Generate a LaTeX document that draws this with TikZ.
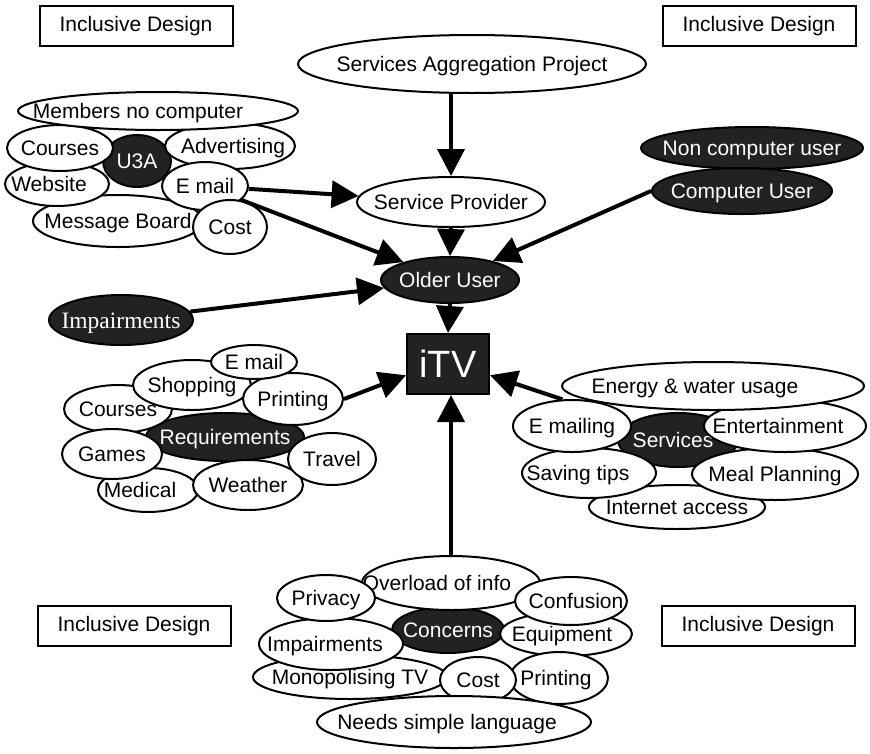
\documentclass[tikz,border=0pt]{standalone}
\usepackage{fontspec}
\setmainfont{Liberation Sans}
\newfontfamily\serifimp{Liberation Serif}
\usetikzlibrary{shapes.geometric,arrows.meta}
\definecolor{darkfill}{HTML}{222222}
\newcommand{\tx}[2][0pt]{\makebox[0pt]{\hspace*{#1}\hspace*{#1}\raisebox{-0.36em}[0pt][0pt]{#2}}}
\tikzset{
  wo/.style={ellipse, draw=black, line width=2pt, fill=white, inner sep=0pt, text=black, font=\fontsize{21}{25}\selectfont},
  bo/.style={ellipse, draw=black, line width=2pt, fill=darkfill, inner sep=0pt, text=white, font=\fontsize{21}{25}\selectfont},
  idbox/.style={rectangle, draw=black, line width=2pt, fill=white, minimum width=193pt, minimum height=40pt, inner sep=0pt, font=\fontsize{21}{25}\selectfont},
  arr/.style={line width=4pt, -{Triangle[length=27pt,width=27pt]}},
  sz/.style 2 args={minimum width=#1pt, minimum height=#2pt},
}
\begin{document}
\begin{tikzpicture}[x=1pt,y=-1pt]
\useasboundingbox[fill=white] (0,0) rectangle (870,753);

% Inclusive Design boxes
\node[idbox] (id1) at (136,26) {Inclusive Design};
\node[idbox] (id2) at (759,26) {Inclusive Design};
\node[idbox] (id3) at (134,626) {Inclusive Design};
\node[idbox] (id4) at (758,626) {Inclusive Design};

% top
\node[wo,sz={348}{58}] (sap) at (472,64) {\tx{Services Aggregation Project}};
\node[wo,sz={188}{50}] (sp) at (451,202) {\tx{Service Provider}};
\node[bo,sz={138}{46}] (ou) at (450,280) {\tx{Older User}};
\node[rectangle, draw=black, line width=2pt, fill=darkfill, text=white, minimum width=82pt, minimum height=60pt, inner sep=0pt, font=\fontsize{38}{40}\selectfont] (itv) at (448,364) {iTV};
\node[bo,sz={222}{42}] (ncu) at (752,148) {\tx{Non computer user}};
\node[bo,sz={180}{46}] (cu) at (742,191) {\tx{Computer User}};
\node[bo,sz={144}{50},font=\serifimp\fontsize{23.5}{26}\selectfont] (imp1) at (121,320) {\tx{Impairments}};

% U3A cluster
\node[wo,sz={170}{52}] (msgb) at (118,221) {\tx{Message Board}};
\node[wo,sz={104}{44}] (web) at (57,184) {\tx[-8pt]{Website}};
\node[bo,sz={68}{52}] (u3a) at (137,161) {\tx{U3A}};
\node[wo,sz={130}{46}] (adv) at (230,146) {\tx[3pt]{Advertising}};
\node[wo,sz={106}{46}] (cour1) at (60,148) {\tx{Courses}};
\node[wo,sz={280}{38}] (mnc) at (158,111) {\tx[-20pt]{Members no computer}};
\node[wo,sz={86}{48}] (em1) at (205,186) {\tx{E mail}};
\node[wo,sz={74}{54}] (cost1) at (230,227) {\tx{Cost}};

% Requirements cluster
\node[bo,sz={158}{48}] (req) at (225,437) {\tx{Requirements}};
\node[wo,sz={108}{48}] (cour2) at (118,409) {\tx{Courses}};
\node[wo,sz={118}{50}] (shop) at (192,385) {\tx{Shopping}};
\node[wo,sz={100}{52}] (prt2) at (293,399) {\tx{Printing}};
\node[wo,sz={86}{34}] (em2) at (254,362) {\tx{E mail}};
\node[wo,sz={100}{44}] (med) at (148,490) {\tx[-8pt]{Medical}};
\node[wo,sz={100}{50}] (games) at (112,454) {\tx{Games}};
\node[wo,sz={110}{50}] (weather) at (248,485) {\tx{Weather}};
\node[wo,sz={88}{52}] (travel) at (332,459) {\tx{Travel}};

% Services cluster
\node[bo,sz={120}{54}] (serv) at (678,440) {\tx[-5pt]{Services}};
\node[wo,sz={176}{44}] (inet) at (677,507) {\tx{Internet access}};
\node[wo,sz={134}{50}] (save) at (589,473) {\tx[-11pt]{Saving tips}};
\node[wo,sz={166}{52}] (meal) at (775,474) {\tx{Meal Planning}};
\node[wo,sz={118}{52}] (emng) at (572,426) {\tx{E mailing}};
\node[wo,sz={162}{52}] (ent) at (785,426) {\tx[-7pt]{Entertainment}};
\node[wo,sz={302}{48}] (energy) at (713,386) {\tx[-18pt]{Energy \& water usage}};

% Concerns cluster
\node[bo,sz={112}{46}] (conc) at (448,630) {\tx{Concerns}};
\node[wo,sz={178}{54}] (over) at (451,583) {\tx[-14pt]{Overload of info}};
\node[wo,sz={194}{44}] (monop) at (350,677) {\tx{Monopolising TV}};
\node[wo,sz={144}{52}] (imp2) at (331,644) {\tx[-6pt]{Impairments}};
\node[wo,sz={98}{46}] (priv) at (326,598) {\tx{Privacy}};
\node[wo,sz={132}{44}] (equip) at (566,634) {\tx[-4pt]{Equipment}};
\node[wo,sz={112}{48}] (conf) at (571,601) {\tx[5pt]{Confusion}};
\node[wo,sz={98}{52}] (prt3) at (559,678) {\tx[-3pt]{Printing}};
\node[wo,sz={76}{46}] (cost2) at (478,680) {\tx{Cost}};
\node[wo,sz={274}{52}] (needs) at (454,722) {\tx[-7pt]{Needs simple language}};

% connectors
\draw[arr] (sp.north |- sap.south) -- (sp.north);
\draw[arr] (sp.south) -- (ou.north);
\draw[arr] (ou.south) -- (itv.north);
\draw[arr] (em1) -- (sp);
\draw[arr] (em1) -- (ou);
\draw[arr] (imp1) -- (ou);
\draw[arr] (cu.west) -- (ou);
\draw[arr] (prt2.east) -- (itv.195);
\draw[arr] (emng.110) -- (itv.-15);
\draw[arr] (over.north) -- (over.north |- itv.south);
\end{tikzpicture}
\end{document}
